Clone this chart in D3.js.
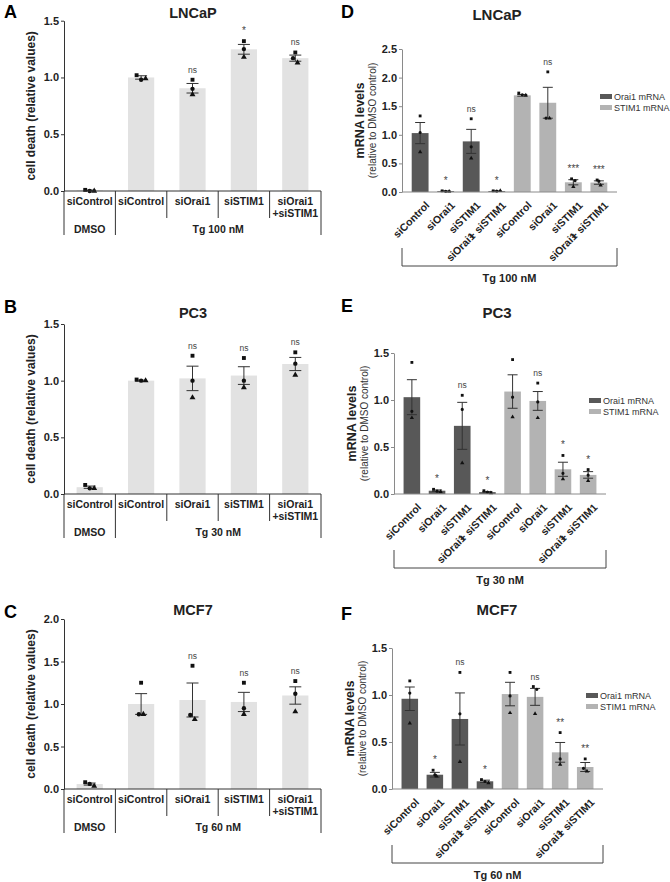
<!DOCTYPE html>
<html>
<head>
<meta charset="utf-8">
<script src="https://cdn.jsdelivr.net/npm/d3@7"></script>
<style>
  body { margin: 0; background: #fff; }
  svg { font-family: "Liberation Sans", Arial, sans-serif; }
</style>
</head>
<body>
<svg id="fig" width="670" height="882"></svg>
<script>
// ---- data: cell death (left column) ----
var deathGroups = [["siControl"], ["siControl"], ["siOrai1"], ["siSTIM1"], ["siOrai1", "+siSTIM1"]];

var deathA_mean = [0.005, 1.0, 0.905, 1.248, 1.17];
var deathA_sem = [0.003, 0.015, 0.042, 0.043, 0.027];
var deathA_pts = [[0.01, 0.0, 0.0], [1.02, 0.98, 0.99], [0.98, 0.9, 0.85], [1.32, 1.25, 1.18], [1.22, 1.17, 1.13]];
var deathA_sig = ["", "", "ns", "*", "ns"];

var deathB_mean = [0.06, 1.0, 1.02, 1.045, 1.147];
var deathB_sem = [0.01, 0.005, 0.108, 0.078, 0.058];
var deathB_pts = [[0.08, 0.05, 0.05], [1.01, 1.0, 1.0], [1.22, 1.0, 0.85], [1.2, 1.0, 0.94], [1.25, 1.15, 1.05]];
var deathB_sig = ["", "", "ns", "ns", "ns"];

var deathC_mean = [0.058, 1.0, 1.047, 1.024, 1.1];
var deathC_sem = [0.012, 0.122, 0.2, 0.113, 0.102];
var deathC_pts = [[0.08, 0.06, 0.035], [1.25, 0.88, 0.88], [1.45, 0.87, 0.82], [1.25, 0.95, 0.88], [1.27, 1.12, 0.91]];
var deathC_sig = ["", "", "ns", "ns", "ns"];

// ---- data: mRNA levels (right column) ----
var mrnaGroups = ["siControl", "siOrai1", "siSTIM1", "siOrai1+ siSTIM1",
                  "siControl", "siOrai1", "siSTIM1", "siOrai1+ siSTIM1"];
var mrnaSeries = ["Orai1 mRNA", "STIM1 mRNA"]; // first 4 bars Orai1, last 4 STIM1

var mrnaD_mean = [1.03, 0.015, 0.885, 0.015, 1.69, 1.56, 0.17, 0.165];
var mrnaD_sem = [0.185, 0.005, 0.21, 0.005, 0.015, 0.27, 0.045, 0.03];
var mrnaD_pts = [[1.33, 1.04, 0.7], [0.02, 0.01, 0.01], [1.28, 0.79, 0.59], [0.02, 0.015, 0.02],
                 [1.73, 1.7, 1.69], [2.1, 1.29, 1.29], [0.23, 0.2, 0.09], [0.21, 0.19, 0.12]];
var mrnaD_sig = ["", "*", "ns", "*", "", "ns", "***", "***"];

var mrnaE_mean = [1.03, 0.035, 0.725, 0.02, 1.09, 0.99, 0.263, 0.203];
var mrnaE_sem = [0.186, 0.008, 0.25, 0.006, 0.178, 0.1, 0.075, 0.035];
var mrnaE_pts = [[1.4, 0.88, 0.81], [0.05, 0.03, 0.025], [1.05, 0.9, 0.33], [0.035, 0.02, 0.01],
                 [1.43, 1.03, 0.82], [1.18, 0.98, 0.81], [0.41, 0.22, 0.16], [0.26, 0.2, 0.14]];
var mrnaE_sig = ["", "*", "ns", "*", "", "ns", "*", "*"];

var mrnaF_mean = [0.96, 0.152, 0.745, 0.082, 1.01, 0.98, 0.39, 0.234];
var mrnaF_sem = [0.125, 0.025, 0.277, 0.012, 0.125, 0.09, 0.105, 0.048];
var mrnaF_pts = [[1.15, 1.02, 0.7], [0.2, 0.15, 0.135], [1.24, 0.8, 0.29], [0.1, 0.08, 0.065],
                 [1.24, 0.99, 0.81], [1.09, 1.06, 0.8], [0.6, 0.32, 0.26], [0.32, 0.22, 0.19]];
var mrnaF_sig = ["", "*", "ns", "*", "", "ns", "**", "**"];

var svg = d3.select("#fig");
var symbols = [d3.symbolSquare, d3.symbolCircle, d3.symbolTriangle];

// spread replicate points that would sit on top of each other
function offsets(pts, y, gap) {
  var py = pts.map(function (v) { return y(v); });
  return py.map(function (p, j) {
    var near = py.map(function (q, k) { return k; }).filter(function (k) { return Math.abs(py[k] - p) < 5; });
    if (near.length < 2) return 0;
    return (near.indexOf(j) - (near.length - 1) / 2) * gap;
  });
}

function drawBars(g, x, y, mean, sem, pts, sig, fill, cap, symSize, gap) {
  var bw = x.bandwidth();
  g.append("g").selectAll("rect").data(mean).enter().append("rect")
    .attr("x", function (d, i) { return x(i); })
    .attr("y", function (d) { return y(d); })
    .attr("width", bw)
    .attr("height", function (d) { return y(0) - y(d); })
    .attr("fill", function (d, i) { return fill(i); });

  var eb = g.append("g").attr("stroke", "#333").attr("stroke-width", 1);
  mean.forEach(function (m, i) {
    var cx = x(i) + bw / 2;
    var hi = y(m + sem[i]), lo = y(Math.max(0, m - sem[i]));
    eb.append("line").attr("x1", cx).attr("x2", cx).attr("y1", hi).attr("y2", lo);
    eb.append("line").attr("x1", cx - cap / 2).attr("x2", cx + cap / 2).attr("y1", hi).attr("y2", hi);
    eb.append("line").attr("x1", cx - cap / 2).attr("x2", cx + cap / 2).attr("y1", lo).attr("y2", lo);
  });

  var pg = g.append("g").attr("fill", "#111");
  pts.forEach(function (arr, i) {
    var cx = x(i) + bw / 2;
    var off = offsets(arr, y, gap);
    arr.forEach(function (v, j) {
      pg.append("path")
        .attr("d", d3.symbol().type(symbols[j]).size(symSize)())
        .attr("transform", "translate(" + (cx + off[j]) + "," + y(v) + ")");
    });
  });

  sig.forEach(function (s, i) {
    if (!s) return;
    var top = Math.max(d3.max(pts[i]), mean[i] + sem[i]);
    g.append("text")
      .attr("x", x(i) + bw / 2)
      .attr("y", y(top) - 7)
      .attr("text-anchor", "middle")
      .attr("font-size", s === "ns" ? 8.5 : 10)
      .attr("fill", "#444")
      .text(s);
  });
}

function cellDeathPanel(o) {
  var g = svg.append("g");
  var x = d3.scaleBand().domain(d3.range(deathGroups.length)).range([64, 321])
    .paddingInner(0.49).paddingOuter(0.245);
  var y = d3.scaleLinear().domain([0, o.ymax]).range([o.bottom, o.top]);

  g.append("text").attr("x", 4).attr("y", o.letterY).attr("font-size", 18)
    .attr("font-weight", "bold").text(o.letter);
  g.append("text").attr("x", 193).attr("y", o.titleY).attr("text-anchor", "middle")
    .attr("font-size", 14.5).attr("font-weight", "bold").attr("fill", "#222").text(o.title);

  var ya = g.append("g").attr("transform", "translate(64,0)")
    .call(d3.axisLeft(y).tickValues(d3.range(0, o.ymax + 0.01, 0.5)).tickFormat(d3.format(".1f"))
      .tickSize(3).tickPadding(2).tickSizeOuter(0));
  ya.selectAll("text").attr("font-size", 11).attr("font-weight", "bold").attr("fill", "#222")
    .attr("font-family", "Liberation Sans, Arial, sans-serif");
  ya.selectAll("line,path").attr("stroke", "#333");

  g.append("text")
    .attr("transform", "translate(35," + ((o.top + o.bottom) / 2) + ") rotate(-90)")
    .attr("text-anchor", "middle").attr("font-size", 12).attr("font-weight", "bold").attr("fill", "#222")
    .text("cell death (relative values)");

  drawBars(g, x, y, o.mean, o.sem, o.pts, o.sig, function () { return "#e2e2e2"; }, 12, 15, 4.5);

  // x axis and label table
  var x0 = x.range()[0], x1 = x.range()[1], step = x.step();
  var lg = g.append("g").attr("stroke", "#333").attr("stroke-width", 1);
  lg.append("line").attr("x1", x0).attr("x2", x1).attr("y1", o.bottom).attr("y2", o.bottom);
  d3.range(deathGroups.length + 1).forEach(function (k) {
    var long = (k === 0 || k === 1 || k === deathGroups.length);
    lg.append("line").attr("x1", x0 + k * step).attr("x2", x0 + k * step)
      .attr("y1", o.bottom).attr("y2", o.bottom + (long ? 44 : 27));
  });
  deathGroups.forEach(function (lines, i) {
    var t = g.append("text").attr("x", x(i) + x.bandwidth() / 2).attr("y", o.bottom + 14)
      .attr("text-anchor", "middle").attr("font-size", 10.5).attr("font-weight", "bold").attr("fill", "#222");
    lines.forEach(function (s, j) {
      t.append("tspan").attr("x", x(i) + x.bandwidth() / 2).attr("dy", j ? 12 : 0).text(s);
    });
  });
  g.append("text").attr("x", x0 + step / 2).attr("y", o.bottom + 42).attr("text-anchor", "middle")
    .attr("font-size", 10.5).attr("font-weight", "bold").attr("fill", "#222").text("DMSO");
  g.append("text").attr("x", (x0 + step + x1) / 2).attr("y", o.bottom + 42).attr("text-anchor", "middle")
    .attr("font-size", 10.5).attr("font-weight", "bold").attr("fill", "#222").text(o.treatment);
}

function mrnaPanel(o) {
  var g = svg.append("g");
  var x = d3.scaleBand().domain(d3.range(mrnaGroups.length)).range([o.left, o.right])
    .paddingInner(0.34).paddingOuter(0.38);
  var y = d3.scaleLinear().domain([0, o.ymax]).range([o.bottom, o.top]);
  var color = d3.scaleOrdinal().domain(mrnaSeries).range(["#585858", "#b3b3b3"]);

  g.append("text").attr("x", 341).attr("y", o.letterY).attr("font-size", 18)
    .attr("font-weight", "bold").text(o.letter);
  g.append("text").attr("x", 497).attr("y", o.titleY).attr("text-anchor", "middle")
    .attr("font-size", 15).attr("font-weight", "bold").attr("fill", "#222").text(o.title);

  var ya = g.append("g").attr("transform", "translate(" + o.left + ",0)")
    .call(d3.axisLeft(y).tickValues(d3.range(0, o.ymax + 0.01, 0.5)).tickFormat(d3.format(".1f"))
      .tickSize(3).tickPadding(2).tickSizeOuter(0));
  ya.selectAll("text").attr("font-size", 11).attr("font-weight", "bold").attr("fill", "#222")
    .attr("font-family", "Liberation Sans, Arial, sans-serif");
  ya.selectAll("line,path").attr("stroke", "#8a8a8a");

  var cy = (o.top + o.bottom) / 2;
  g.append("text").attr("transform", "translate(" + (o.left - 38) + "," + cy + ") rotate(-90)")
    .attr("text-anchor", "middle").attr("font-size", 12.5).attr("font-weight", "bold").attr("fill", "#222")
    .text("mRNA levels");
  g.append("text").attr("transform", "translate(" + (o.left - 26) + "," + cy + ") rotate(-90)")
    .attr("text-anchor", "middle").attr("font-size", 10).attr("fill", "#333")
    .text("(relative to DMSO control)");

  drawBars(g, x, y, o.mean, o.sem, o.pts, o.sig,
    function (i) { return color(mrnaSeries[i < 4 ? 0 : 1]); }, 10, 8, 3.5);

  g.append("line").attr("x1", o.left).attr("x2", o.right).attr("y1", o.bottom).attr("y2", o.bottom)
    .attr("stroke", "#8a8a8a");

  // rotated group labels; the "+" overlaps the "1" as in the original figure
  mrnaGroups.forEach(function (s, i) {
    var tx = x(i) + x.bandwidth() / 2 + 10, ty = o.bottom + 14;
    var t = g.append("text").attr("transform", "translate(" + tx + "," + ty + ") rotate(-45)")
      .attr("text-anchor", "end").attr("font-size", 10.5).attr("font-weight", "bold").attr("fill", "#222");
    var parts = s.split("+");
    if (parts.length > 1) {
      t.append("tspan").text(parts[0]);
      t.append("tspan").attr("dx", -5).text("+" + parts[1]);
    } else {
      t.text(s);
    }
  });

  // bracket with treatment
  g.append("path")
    .attr("d", "M" + o.left + "," + (o.bottom + 56) + "V" + (o.bottom + 74) + "H" + o.right + "V" + (o.bottom + 56))
    .attr("fill", "none").attr("stroke", "#444");
  g.append("text").attr("x", (o.left + o.right) / 2).attr("y", o.bottom + 90).attr("text-anchor", "middle")
    .attr("font-size", 11).attr("font-weight", "bold").attr("fill", "#222").text(o.treatment);

  // legend
  var lgd = g.append("g").attr("transform", "translate(" + (o.right - 17) + "," + (o.top + 45) + ")");
  mrnaSeries.forEach(function (s, k) {
    lgd.append("rect").attr("x", 0).attr("y", k * 11).attr("width", 12).attr("height", 5).attr("fill", color(s));
    lgd.append("text").attr("x", 14).attr("y", k * 11 + 6).attr("font-size", 9).attr("fill", "#333").text(s);
  });
}

cellDeathPanel({ letter: "A", letterY: 18, title: "LNCaP", titleY: 18, top: 20.7, bottom: 191, ymax: 1.5,
  mean: deathA_mean, sem: deathA_sem, pts: deathA_pts, sig: deathA_sig, treatment: "Tg 100 nM" });
cellDeathPanel({ letter: "B", letterY: 313, title: "PC3", titleY: 318, top: 324, bottom: 494, ymax: 1.5,
  mean: deathB_mean, sem: deathB_sem, pts: deathB_pts, sig: deathB_sig, treatment: "Tg 30 nM" });
cellDeathPanel({ letter: "C", letterY: 618, title: "MCF7", titleY: 615, top: 619, bottom: 789, ymax: 2.0,
  mean: deathC_mean, sem: deathC_sem, pts: deathC_pts, sig: deathC_sig, treatment: "Tg 60 nM" });

mrnaPanel({ letter: "D", letterY: 18, title: "LNCaP", titleY: 20, left: 402, right: 617, top: 49, bottom: 192, ymax: 2.5,
  mean: mrnaD_mean, sem: mrnaD_sem, pts: mrnaD_pts, sig: mrnaD_sig, treatment: "Tg 100 nM" });
mrnaPanel({ letter: "E", letterY: 312, title: "PC3", titleY: 318, left: 394, right: 606, top: 353, bottom: 494, ymax: 1.5,
  mean: mrnaE_mean, sem: mrnaE_sem, pts: mrnaE_pts, sig: mrnaE_sig, treatment: "Tg 30 nM" });
mrnaPanel({ letter: "F", letterY: 620, title: "MCF7", titleY: 615, left: 392, right: 603, top: 648, bottom: 789, ymax: 1.5,
  mean: mrnaF_mean, sem: mrnaF_sem, pts: mrnaF_pts, sig: mrnaF_sig, treatment: "Tg 60 nM" });
</script>
</body>
</html>
